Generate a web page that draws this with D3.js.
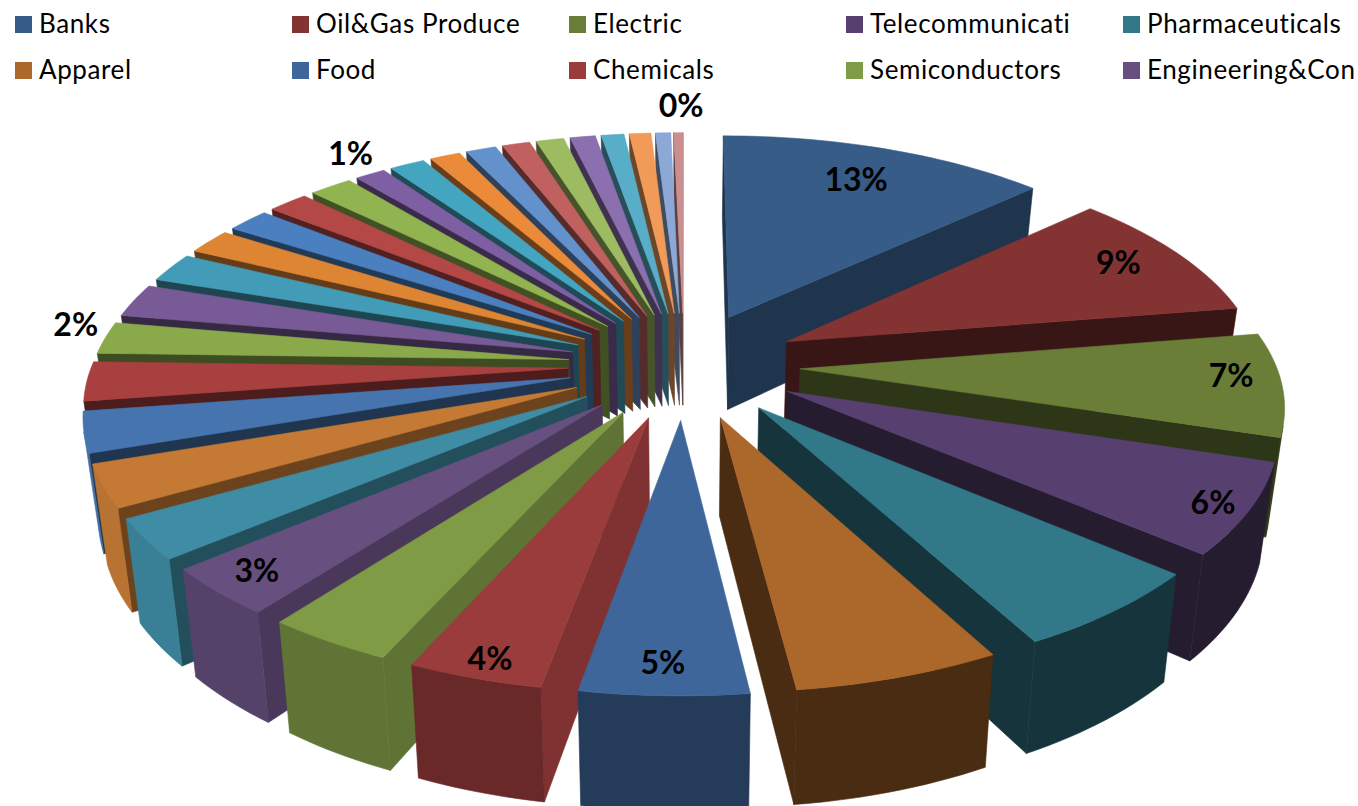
<!DOCTYPE html>
<html>
<head>
<meta charset="utf-8">
<script src="https://cdn.jsdelivr.net/npm/d3@7"></script>
<style>
    body { margin: 0; background: #fff; }
    svg { display: block; }
    text { font-family: Lato, "Open Sans", sans-serif; }
</style>
</head>
<body>
<div id="canvas"></div>
<script>
"use strict"

/* Data (share of total, clockwise from the top) */
const legendNames = ["Banks", "Oil&Gas Produce", "Electric", "Telecommunicati", "Pharmaceuticals",
    "Apparel", "Food", "Chemicals", "Semiconductors", "Engineering&Con"];

const shares = [13, 9.4, 7.4, 6.45, 5.85, 5.9, 4.78, 3.85, 3.65, 3.45, 2.9,
    3.05, 2.9, 2.8, 2.3, 2.4, 2.1, 1.8, 1.7, 1.6, 1.7, 1.2,
    1.4, 1.2, 1.2, 1.1, 1.1, 1, 0.9, 0.85, 0.6, 0.36];

const topColors = ["#365c87", "#843333", "#6a7e37", "#57406f", "#317889", "#ac672a",
    "#3e669a", "#993c3b", "#7f9b46", "#67507f", "#3f8ca5", "#c47a35",
    "#4674ae", "#a8403f", "#8aa94b", "#775a96", "#429cb7", "#de8534",
    "#4a80c0", "#b44846", "#91b350", "#7f5fa3", "#44a5c0", "#eb8a39",
    "#6391cb", "#c0605f", "#9dbb60", "#8c6fae", "#58adc8", "#f29a58",
    "#8ca8d6", "#cc8f8f"];

/* Which slices carry a label: slice index, radial position, pixel nudge */
const labelSpots = [
    { slice: 0, r: 0.80, dx: -2, dy: 0 },
    { slice: 1, r: 0.85, dx: -3, dy: -3 },
    { slice: 2, r: 0.85, dx: 22, dy: -6 },
    { slice: 3, r: 0.85, dx: 37, dy: 12 },
    { slice: 6, r: 0.85, dx: -4, dy: 14 },
    { slice: 7, r: 0.85, dx: -14, dy: 25 },
    { slice: 9, r: 0.85, dx: -24, dy: 10 },
    { slice: 14, r: 1.08, dx: 7, dy: -11 },
    { slice: 21, r: 1.08, dx: -2, dy: -9 },
    { slice: 31, r: 1.05, dx: 3, dy: -19 }
];

/* Configuration variables: drawing */
const svgWidth = 1358;
const svgHeight = 806;

const cx = 684;        // screen centre of the pie
const cy = 365;
const scaleX = 592;    // screen size of a unit on the ground plane
const scaleY = 273;
const tilt = 0.175;    // perspective strength
const wallHeight = 95;
const wallInset = 0.975; // wall bottoms sit a little closer to the centre
const explode = 0.196; // explosion distance, outer edge of the pie is 1
const radius = 1 - explode;

/* Wall shading against the angle of the slice, in degrees */
const cutShade = d3.scaleLinear()
    .domain([0, 23, 60, 180, 197, 210, 223, 236, 247, 257, 360])
    .range([0.57, 0.57, 0.43, 0.43, 0.83, 0.75, 0.71, 0.55, 0.55, 0.45, 0.45]);
const outerShade = d3.scaleLinear()
    .domain([0, 170, 178, 197, 210, 223, 236, 247, 360])
    .range([0.43, 0.43, 0.55, 0.69, 0.75, 0.82, 0.92, 0.94, 0.94]);

function shade(color, factor) {
    let c = d3.rgb(color);
    return d3.rgb(c.r * factor, c.g * factor, c.b * factor).formatHex();
}

/* Ground plane point to screen. Y grows toward the viewer. */
function project(x, y, low) {
    let w = 1 / (1 - tilt * y);
    let sx = scaleX * x * w;
    let sy = cy + scaleY * y * w;
    if (low) {
        return [cx + sx * wallInset, sy + wallHeight * w];
    }
    return [cx + sx, sy];
}

/* Create drawing canvas */
let svg = d3.select("#canvas")
    .append("svg")
    .attr("width", svgWidth)
    .attr("height", svgHeight);

/* Legend */
let legend = svg.selectAll("g.legend")
    .data(legendNames)
    .join("g")
    .attr("class", "legend")
    .attr("transform", function (d, i) {
        return "translate(" + (15 + (i % 5) * 277) + "," + (16 + Math.floor(i / 5) * 46) + ")";
    });

legend.append("rect")
    .attr("width", 17)
    .attr("height", 17)
    .attr("fill", function (d, i) { return topColors[i]; });

legend.append("text")
    .attr("x", 24)
    .attr("y", 17)
    .attr("font-size", 26)
    .attr("letter-spacing", 0.6)
    .attr("fill", "#000")
    .text(function (d) { return d; });

/* Pie angles */
let pie = d3.pie().sort(null).value(function (d) { return d; });
let arcs = pie(shares).map(function (d, i) {
    let mid = (d.startAngle + d.endAngle) / 2;
    return {
        index: i,
        start: d.startAngle,
        end: d.endAngle,
        mid: mid,
        ox: explode * Math.sin(mid),
        oy: -explode * Math.cos(mid)
    };
});

function ringPoint(a, angle, r, low) {
    return project(a.ox + r * Math.sin(angle), a.oy - r * Math.cos(angle), low);
}

let line = d3.line();

/* Back slices first so the front ones paint over them */
let slices = svg.selectAll("g.slice")
    .data(arcs.slice().sort(function (a, b) { return Math.cos(b.mid) - Math.cos(a.mid); }))
    .join("g")
    .attr("class", "slice");

slices.each(function (a) {
    let g = d3.select(this);
    let color = topColors[a.index];
    let deg = a.mid * 180 / Math.PI;
    let steps = Math.max(2, Math.ceil((a.end - a.start) * 40));
    let angles = d3.range(steps + 1).map(function (k) {
        return a.start + (a.end - a.start) * k / steps;
    });

    function drawFace(points, fill) {
        g.append("path")
            .attr("d", line(points) + "Z")
            .attr("fill", fill)
            .attr("stroke", fill)
            .attr("stroke-width", 0.6);
    }

    function face(points, fill) {
        // faces wound the other way look away from the viewer
        if (d3.polygonArea(points) > 0) drawFace(points, fill);
    }

    let apexTop = project(a.ox, a.oy, false);
    let apexLow = project(a.ox, a.oy, true);

    // cut faces
    face([apexTop, ringPoint(a, a.start, radius, false), ringPoint(a, a.start, radius, true), apexLow],
        shade(color, cutShade(deg)));
    face([ringPoint(a, a.end, radius, false), apexTop, apexLow, ringPoint(a, a.end, radius, true)],
        shade(color, cutShade(deg)));

    // outer wall, only the arc steps facing the viewer, joined into one shape
    let facing = d3.pairs(angles).filter(function (p) {
        return d3.polygonArea([ringPoint(a, p[0], radius, false), ringPoint(a, p[1], radius, false),
            ringPoint(a, p[1], radius, true), ringPoint(a, p[0], radius, true)]) > 0;
    });
    if (facing.length > 0) {
        let wallAngles = [facing[0][0]].concat(facing.map(function (p) { return p[1]; }));
        let upper = wallAngles.map(function (t) { return ringPoint(a, t, radius, false); });
        let lower = wallAngles.map(function (t) { return ringPoint(a, t, radius, true); }).reverse();
        drawFace(upper.concat(lower), shade(color, outerShade(deg)));
    }

    // top surface
    let rim = angles.map(function (t) { return ringPoint(a, t, radius, false); });
    drawFace([apexTop].concat(rim), color);
});

/* Percent labels */
let total = d3.sum(shares);
let percent = d3.format(".0%");

svg.selectAll("text.pct")
    .data(labelSpots)
    .join("text")
    .attr("class", "pct")
    .attr("text-anchor", "middle")
    .attr("font-size", 32)
    .attr("font-weight", 700)
    .attr("fill", "#000")
    .attr("transform", function (d) {
        let a = arcs[d.slice];
        let p = ringPoint(a, a.mid, radius * d.r, false);
        return "translate(" + (p[0] + d.dx) + "," + (p[1] + d.dy + 11) + ")";
    })
    .text(function (d) { return percent(shares[d.slice] / total); });
</script>
</body>
</html>
